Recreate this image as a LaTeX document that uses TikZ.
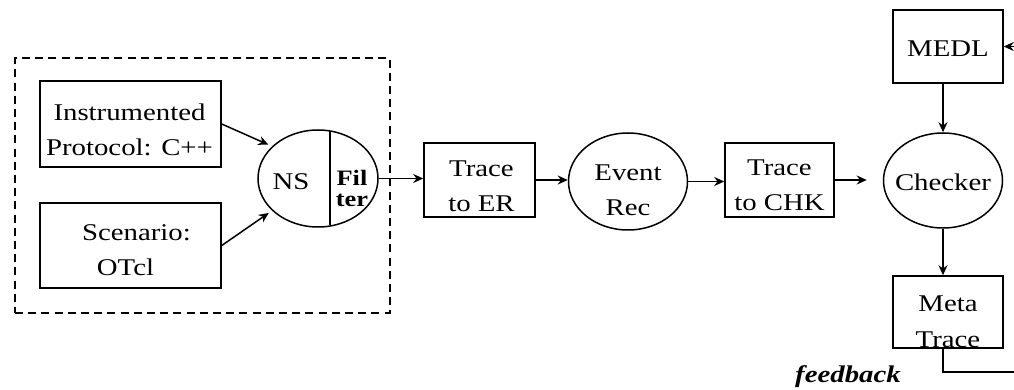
\documentclass[tikz,border=0pt]{standalone}
\usepackage{fontspec}
\setmainfont[FakeStretch=1.2]{Liberation Serif}
\usetikzlibrary{arrows.meta,calc,shapes.geometric}

\begin{document}
\begin{tikzpicture}[x=0.5pt,y=-0.5pt,
  line width=0.75pt,
  every node/.style={font=\fontsize{12}{17.5}\selectfont, inner sep=0pt, align=center},
  blk/.style={draw, rectangle},
  oval/.style={draw, ellipse},
  arr/.style={-{Stealth[length=5pt,width=4.5pt]}},
]
\clip (0,0) rectangle (1014,390);

% simulation group
\node[draw, dash pattern=on 4pt off 2.6pt, minimum width=187.5pt, minimum height=127.5pt] (grp) at (202.5,185.5) {};
\node[blk, minimum width=90.5pt, minimum height=43pt] (inst) at (130.5,124) {};
\node (inst-t) at ($(inst)+(-1,6)$) {Instrumented\\Protocol: C++};
\node[blk, minimum width=90.5pt, minimum height=42.5pt] (scen) at (130.5,245.5) {};
\node (scen-t) at ($(scen)+(0,5)$) {\hspace*{6pt}Scenario:\\OTcl\hspace*{5pt}};
\node[oval, minimum width=60pt, minimum height=48.5pt] (ns) at (318,178.5) {};
\draw ($(ns.center)+(12,-47)$) -- ($(ns.center)+(12,47)$);
\node (nslbl) at (291,182) {NS};
\node[font=\fontsize{11}{10.5}\selectfont\bfseries] (filt) at (352,188) {Fil\\ter};

% pipeline
\node[blk, minimum width=55.5pt, minimum height=37pt] (ter) at (479.5,180) {};
\node (ter-t) at ($(ter)+(2,6)$) {Trace\\to ER};
\node[oval, minimum width=59.5pt, minimum height=48.5pt] (evr) at (628,181.5) {};
\node (evr-t) at ($(evr)+(0,9)$) {Event\\Rec};
\node[blk, minimum width=54.5pt, minimum height=37pt] (tchk) at (779.5,180) {};
\node (tchk-t) at ($(tchk)+(0,5)$) {Trace\\to CHK};
\node[oval, minimum width=59.5pt, minimum height=47.5pt] (chk) at (943,180.5) {};
\node (chk-t) at ($(chk)+(0,2)$) {Checker};
\node[blk, minimum width=55pt, minimum height=36.5pt] (medl) at (948,46.5) {};
\node (medl-t) at ($(medl)+(0,2)$) {MEDL};
\node[blk, minimum width=55pt, minimum height=36pt] (meta) at (948,312) {};
\node[font=\fontsize{12}{18}\selectfont] (meta-t) at ($(meta)+(0,10)$) {Meta\\Trace};
\node[font=\fontsize{12}{14}\selectfont\bfseries\itshape] (fb) at (848,377) {feedback};
\coordinate (fbturn) at (1020,372);

% connectors
\draw[arr, shorten >=2pt] (inst.east) -- (ns.145);
\draw[arr, shorten >=2pt] (scen.east) -- (ns.215);
\draw[arr] (ns.east) -- (ns.east -| ter.west);
\draw[arr] (ter.east) -- (ter.east -| evr.west);
\draw[arr] (evr.east) -- (evr.east -| tchk.west);
\draw[arr, shorten >=8pt] (tchk.east) -- (tchk.east -| chk.west);
\draw[arr] (medl.south -| chk) -- (chk.north);
\draw[arr] (chk.south) -- (meta.north -| chk);
\draw[arr] (meta.south -| chk) |- (fbturn) |- (medl.east);
\end{tikzpicture}
\end{document}
